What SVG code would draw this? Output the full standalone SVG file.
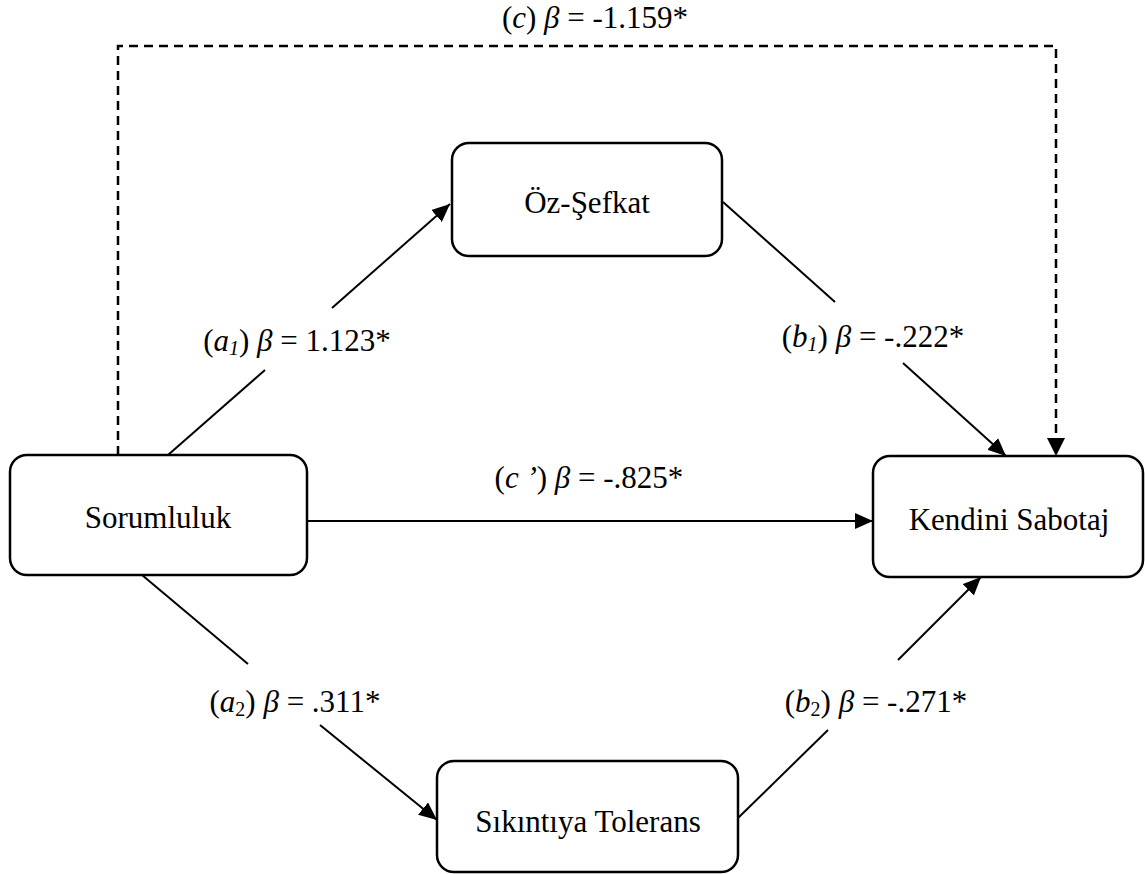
<svg xmlns="http://www.w3.org/2000/svg" width="1145" height="874" viewBox="0 0 1145 874">
<style>
.box{fill:#fff;stroke:#000;stroke-width:2.5}
.t{font-family:"Liberation Serif","Times New Roman",serif;font-size:31px;fill:#000;text-anchor:middle}
.i{font-style:italic}
.sub{font-size:20px}
.ln{stroke:#000;stroke-width:2;fill:none}
.dash{stroke:#000;stroke-width:2.5;fill:none;stroke-dasharray:9 6}
</style>
<defs>
<marker id="ah" markerUnits="userSpaceOnUse" markerWidth="20" markerHeight="16" refX="18" refY="8" orient="auto">
<path d="M0,0 L18,8 L0,16 Z" fill="#000"/>
</marker>
</defs>
<g id="connectors">
<path class="dash" d="M118,455 V46 H1056 V438"/>
<path d="M1047,438 L1065,438 L1056,456 Z" fill="#000"/>
<line class="ln" x1="168" y1="455" x2="265" y2="370"/>
<line class="ln" x1="332" y1="308" x2="450" y2="204" marker-end="url(#ah)"/>
<line class="ln" x1="723" y1="202" x2="835" y2="302"/>
<line class="ln" x1="903" y1="363" x2="1006" y2="456" marker-end="url(#ah)"/>
<line class="ln" x1="307" y1="521" x2="873" y2="521" marker-end="url(#ah)"/>
<line class="ln" x1="142" y1="575" x2="248" y2="664"/>
<line class="ln" x1="320" y1="725" x2="437" y2="820" marker-end="url(#ah)"/>
<line class="ln" x1="738" y1="818" x2="828" y2="730"/>
<line class="ln" x1="898" y1="660" x2="981" y2="577" marker-end="url(#ah)"/>
<text class="t" x="595" y="28">(<tspan class="i">c</tspan>) <tspan class="i">β</tspan> = -1.159*</text>
<text class="t" x="297" y="351">(<tspan class="i">a</tspan><tspan class="i sub" dy="4">1</tspan><tspan dy="-4">)</tspan> <tspan class="i">β</tspan> = 1.123*</text>
<text class="t" x="873" y="347">(<tspan class="i">b</tspan><tspan class="i sub" dy="4">1</tspan><tspan dy="-4">)</tspan> <tspan class="i">β</tspan> = -.222*</text>
<text class="t" x="589" y="488">(<tspan class="i">c ’</tspan>) <tspan class="i">β</tspan> = -.825*</text>
<text class="t" x="295" y="712">(<tspan class="i">a</tspan><tspan class="sub" dy="4">2</tspan><tspan dy="-4">)</tspan> <tspan class="i">β</tspan> = .311*</text>
<text class="t" x="876" y="712">(<tspan class="i">b</tspan><tspan class="sub" dy="4">2</tspan><tspan dy="-4">)</tspan> <tspan class="i">β</tspan> = -.271*</text>
</g>
<g id="sorumluluk">
<rect class="box" x="10" y="455" width="297" height="120" rx="17"/>
<text class="t" x="158" y="528">Sorumluluk</text>
</g>
<g id="kendini-sabotaj">
<rect class="box" x="873" y="456" width="270" height="121" rx="17"/>
<text class="t" x="1009" y="530">Kendini Sabotaj</text>
</g>
<g id="oz-sefkat">
<rect class="box" x="452" y="143" width="270" height="113" rx="17"/>
<text class="t" x="587" y="213">Öz-Şefkat</text>
</g>
<g id="sikintiya-tolerans">
<rect class="box" x="437" y="761" width="301" height="111" rx="17"/>
<text class="t" x="588" y="832">Sıkıntıya Tolerans</text>
</g>
</svg>
